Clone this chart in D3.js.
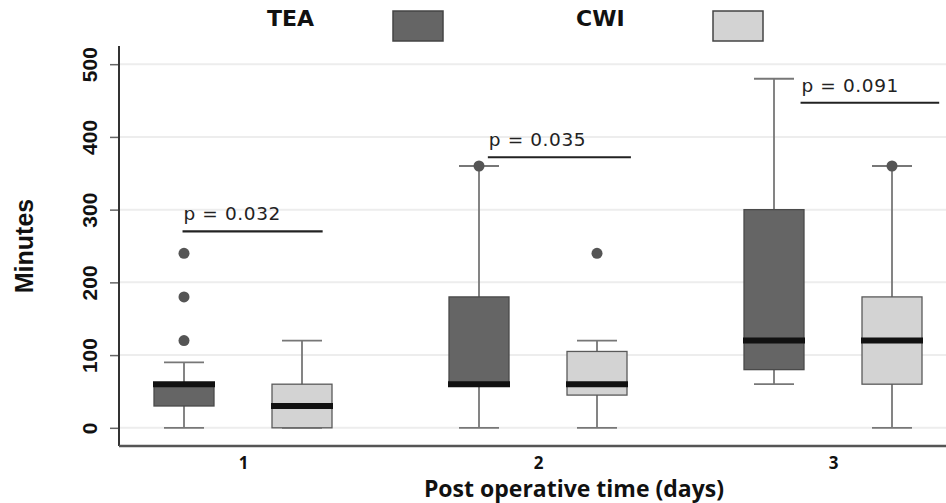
<!DOCTYPE html>
<html>
<head>
<meta charset="utf-8">
<script src="https://cdn.jsdelivr.net/npm/d3@7"></script>
<style>
  body { margin: 0; background: #fff; }
  svg { display: block; }
</style>
</head>
<body>
<script>
// data (minutes)
var days = [1, 2, 3];
var groups = ["TEA", "CWI"];
var groupColors = ["#656565", "#d3d3d3"];

var teaLow = [0, 0, 60];
var teaQ1 = [30, 60, 80];
var teaMed = [60, 60, 120];
var teaQ3 = [62, 180, 300];
var teaHigh = [90, 360, 480];
var teaOutliers = [[120, 180, 240], [360], []];

var cwiLow = [0, 0, 0];
var cwiQ1 = [0, 45, 60];
var cwiMed = [30, 60, 120];
var cwiQ3 = [60, 105, 180];
var cwiHigh = [120, 120, 360];
var cwiOutliers = [[], [240], [360]];

var yTicks = [0, 100, 200, 300, 400, 500];
var pLabels = ["p = 0.032", "p = 0.035", "p = 0.091"];
var pLevel = [270, 372, 447];
var pFrom = [0.795, 1.83, 2.89];
var pTo = [1.27, 2.315, 3.36];

var width = 946, height = 503;
var plotLeft = 119, plotTop = 46, plotBottom = 446;

var svg = d3.select('body').append('svg')
    .attr('width', width)
    .attr('height', height);

var y = d3.scaleLinear().domain([-25, 525]).range([plotBottom, plotTop]);
var x = d3.scaleLinear().domain([1, 3]).range([243, 833]);
var off = d3.scalePoint().domain(groups).range([-59, 59]);
var boxW = 60, capW = 40;

// grid
svg.append('g').selectAll('line')
    .data(yTicks)
    .enter().append('line')
        .attr('x1', plotLeft).attr('x2', width)
        .attr('y1', function (d) { return y(d); })
        .attr('y2', function (d) { return y(d); })
        .attr('stroke', '#ededed')
        .attr('stroke-width', 2);

// y axis
var yAxis = svg.append('g')
    .attr('transform', 'translate(' + plotLeft + ',0)')
    .call(d3.axisLeft(y).tickValues(yTicks).tickSize(9).tickSizeOuter(0));
yAxis.select('.domain').remove();
yAxis.selectAll('.tick line').attr('stroke', '#666').attr('stroke-width', 1.5);
yAxis.selectAll('.tick text')
    .attr('transform', 'rotate(-90)')
    .attr('x', 0).attr('y', -22).attr('dy', 0)
    .attr('text-anchor', 'middle')
    .style('font-family', '"Liberation Sans Narrow", "Arial Narrow", sans-serif')
    .style('font-weight', 'bold')
    .style('font-size', '21px')
    .attr('fill', '#111');
svg.append('line')
    .attr('x1', plotLeft).attr('x2', plotLeft)
    .attr('y1', plotTop).attr('y2', plotBottom)
    .attr('stroke', '#333').attr('stroke-width', 2);

// x axis
var xAxis = svg.append('g')
    .attr('transform', 'translate(0,' + plotBottom + ')')
    .call(d3.axisBottom(x).tickValues(days).tickSize(0).tickFormat(d3.format('d')));
xAxis.select('.domain').remove();
xAxis.selectAll('.tick text')
    .attr('y', 9).attr('dy', '0.8em')
    .style('font-family', '"Open Sans", sans-serif')
    .style('font-weight', 'bold')
    .style('font-size', '17px')
    .attr('fill', '#111');
svg.append('line')
    .attr('x1', plotLeft).attr('x2', width)
    .attr('y1', plotBottom).attr('y2', plotBottom)
    .attr('stroke', '#555').attr('stroke-width', 2.5);

// boxes
var stats = [
    { low: teaLow, q1: teaQ1, med: teaMed, q3: teaQ3, high: teaHigh, out: teaOutliers },
    { low: cwiLow, q1: cwiQ1, med: cwiMed, q3: cwiQ3, high: cwiHigh, out: cwiOutliers }
];
var boxes = [];
groups.forEach(function (g, gi) {
    days.forEach(function (day, di) {
        var s = stats[gi];
        boxes.push({ group: g, gi: gi, day: day, low: s.low[di], q1: s.q1[di], med: s.med[di],
                     q3: s.q3[di], high: s.high[di], out: s.out[di] });
    });
});
var cx = function (d) { return x(d.day) + off(d.group); };

var b = svg.append('g').selectAll('g')
    .data(boxes)
    .enter().append('g');

b.append('line')
    .attr('x1', cx).attr('x2', cx)
    .attr('y1', function (d) { return y(d.low); })
    .attr('y2', function (d) { return y(d.high); })
    .attr('stroke', '#777').attr('stroke-width', 1.8);
b.selectAll('.cap')
    .data(function (d) { return [d.low, d.high].map(function (v) { return { v: v, d: d }; }); })
    .enter().append('line')
        .attr('class', 'cap')
        .attr('x1', function (c) { return cx(c.d) - capW / 2; })
        .attr('x2', function (c) { return cx(c.d) + capW / 2; })
        .attr('y1', function (c) { return y(c.v); })
        .attr('y2', function (c) { return y(c.v); })
        .attr('stroke', '#777').attr('stroke-width', 1.8);
b.append('rect')
    .attr('x', function (d) { return cx(d) - boxW / 2; })
    .attr('y', function (d) { return y(d.q3); })
    .attr('width', boxW)
    .attr('height', function (d) { return y(d.q1) - y(d.q3); })
    .attr('fill', function (d) { return groupColors[d.gi]; })
    .attr('stroke', function (d) { return d.gi ? '#5a5a5a' : '#4a4a4a'; })
    .attr('stroke-width', 1.3);
b.append('line')
    .attr('x1', function (d) { return cx(d) - boxW / 2 - 1; })
    .attr('x2', function (d) { return cx(d) + boxW / 2 + 1; })
    .attr('y1', function (d) { return y(d.med); })
    .attr('y2', function (d) { return y(d.med); })
    .attr('stroke', '#111').attr('stroke-width', 6);
b.selectAll('circle')
    .data(function (d) { return d.out.map(function (v) { return { v: v, d: d }; }); })
    .enter().append('circle')
        .attr('cx', function (c) { return cx(c.d); })
        .attr('cy', function (c) { return y(c.v); })
        .attr('r', 5.5)
        .attr('fill', '#555');

// p values
var p = svg.append('g').selectAll('g')
    .data(pLabels)
    .enter().append('g');
p.append('line')
    .attr('x1', function (d, i) { return x(pFrom[i]); })
    .attr('x2', function (d, i) { return x(pTo[i]); })
    .attr('y1', function (d, i) { return y(pLevel[i]); })
    .attr('y2', function (d, i) { return y(pLevel[i]); })
    .attr('stroke', '#222').attr('stroke-width', 2.2);
p.append('text')
    .attr('x', function (d, i) { return x(pFrom[i]) + 1; })
    .attr('y', function (d, i) { return y(pLevel[i]) - 11; })
    .style('font-family', '"DejaVu Sans", sans-serif')
    .style('font-size', '18.5px')
    .style('letter-spacing', '0.6px')
    .attr('fill', '#222')
    .text(function (d) { return d; });

// axis titles
svg.append('text')
    .attr('transform', 'translate(33,' + ((plotTop + plotBottom) / 2) + ') rotate(-90)')
    .attr('text-anchor', 'middle')
    .style('font-family', '"Liberation Sans Narrow", "Arial Narrow", sans-serif')
    .style('font-weight', 'bold')
    .style('font-size', '25px')
    .attr('fill', '#111')
    .text('Minutes');
svg.append('text')
    .attr('x', 574).attr('y', 497)
    .attr('text-anchor', 'middle')
    .style('font-family', '"Open Sans", sans-serif')
    .style('font-weight', 'bold')
    .style('font-size', '23px')
    .attr('fill', '#111')
    .text('Post operative time (days)');

// legend
var legX = [267, 576], boxX = [393, 713];
var leg = svg.append('g').selectAll('g')
    .data(groups)
    .enter().append('g');
leg.append('text')
    .attr('x', function (d, i) { return legX[i]; })
    .attr('y', 26)
    .style('font-family', '"DejaVu Sans", sans-serif')
    .style('font-weight', 'bold')
    .style('font-size', '22px')
    .attr('fill', '#111')
    .text(function (d) { return d; });
leg.append('rect')
    .attr('x', function (d, i) { return boxX[i]; })
    .attr('y', 11)
    .attr('width', 50).attr('height', 30)
    .attr('fill', function (d, i) { return groupColors[i]; })
    .attr('stroke', '#444').attr('stroke-width', 1.5);
</script>
</body>
</html>
